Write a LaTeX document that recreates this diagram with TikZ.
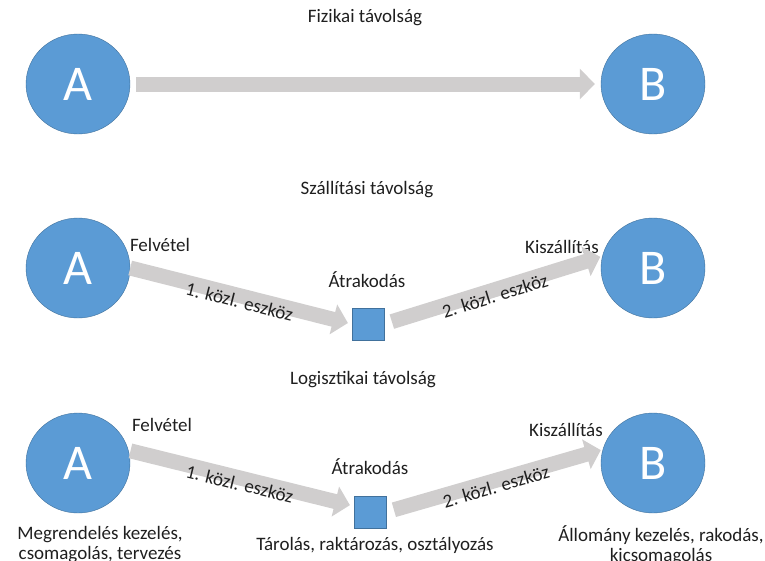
\documentclass[tikz,border=0pt]{standalone}
\usepackage{fontspec}
\setmainfont{Carlito}
\usetikzlibrary{arrows.meta,shapes.geometric,positioning,calc}
\definecolor{nodeblue}{HTML}{5B9BD5}
\definecolor{nodeedge}{HTML}{41719C}
\definecolor{arrgray}{HTML}{D0CECE}
\definecolor{txtgray}{HTML}{1F1F1F}

\begin{document}
\begin{tikzpicture}[x=1pt, y=-1pt,
            place/.style={ellipse, draw=nodeedge, fill=nodeblue, text=white, minimum width=104pt, minimum height=100pt, inner sep=0pt, font=\fontsize{50}{50}\selectfont},
            hub/.style={rectangle, draw=nodeedge, fill=nodeblue, minimum size=32pt, inner sep=0pt},
            lbl/.style={text=txtgray, inner sep=0pt, align=center, font=\fontsize{19}{20}\selectfont},
            fat/.style={draw=arrgray, line width=15pt, -{Triangle[length=15pt,width=30pt]}}]
        \useasboundingbox (0,0) rectangle (765,560);
        % fizikai
        \node[lbl] (t1) at (365,18) {Fizikai távolság};
        \node[place] (A1) at (78,84) {A};
        \node[place] (B1) at (653,84) {B};
        \draw[fat, shorten <=6pt, shorten >=6pt] (A1.east) -- (B1.west);
        % szallitasi
        \node[lbl] (t2) at (367,190) {Szállítási távolság};
        \node[place] (A2) at (78,268) {A};
        \node[place] (B2) at (653,268) {B};
        \node[hub] (S2) at (368,324) {};
        \node[lbl] (f2) at (160,245) {Felvétel};
        \node[lbl] (k2) at (562,247) {Kiszállítás};
        \node[lbl] (r2) at (367,280) {Átrakodás};
        \draw[fat, shorten >=4pt] (A2.east) -- node[lbl, sloped, yshift=-6pt] {1. közl. eszköz} (S2.west);
        \draw[fat, shorten <=8pt, shorten >=2pt] (S2.east) -- node[lbl, sloped, yshift=-6pt] {2. közl. eszköz} (B2.167);
        % logisztikai
        \node[lbl] (t3) at (363,380) {Logisztikai távolság};
        \node[place] (A3) at (78,463) {A};
        \node[place] (B3) at (653,463) {B};
        \node[hub] (S3) at (370,512) {};
        \node[lbl] (f3) at (162,425) {Felvétel};
        \node[lbl] (k3) at (566,430) {Kiszállítás};
        \node[lbl] (r3) at (370,467) {Átrakodás};
        \draw[fat, shorten <=2pt, shorten >=4pt] (A3.14) -- node[lbl, sloped, yshift=-6pt] {1. közl. eszköz} (S3.160);
        \draw[fat, shorten <=8pt, shorten >=2pt] (S3.east) -- node[lbl, sloped, yshift=-6pt] {2. közl. eszköz} (B3.165);
        \node[lbl] (m3) at (100,545) {Megrendelés kezelés,\\csomagolás, tervezés};
        \node[lbl] (o3) at (375,545) {Tárolás, raktározás, osztályozás};
        \node[lbl] (e3) at (661,545) {Állomány kezelés, rakodás,\\kicsomagolás};
\end{tikzpicture}
\end{document}
